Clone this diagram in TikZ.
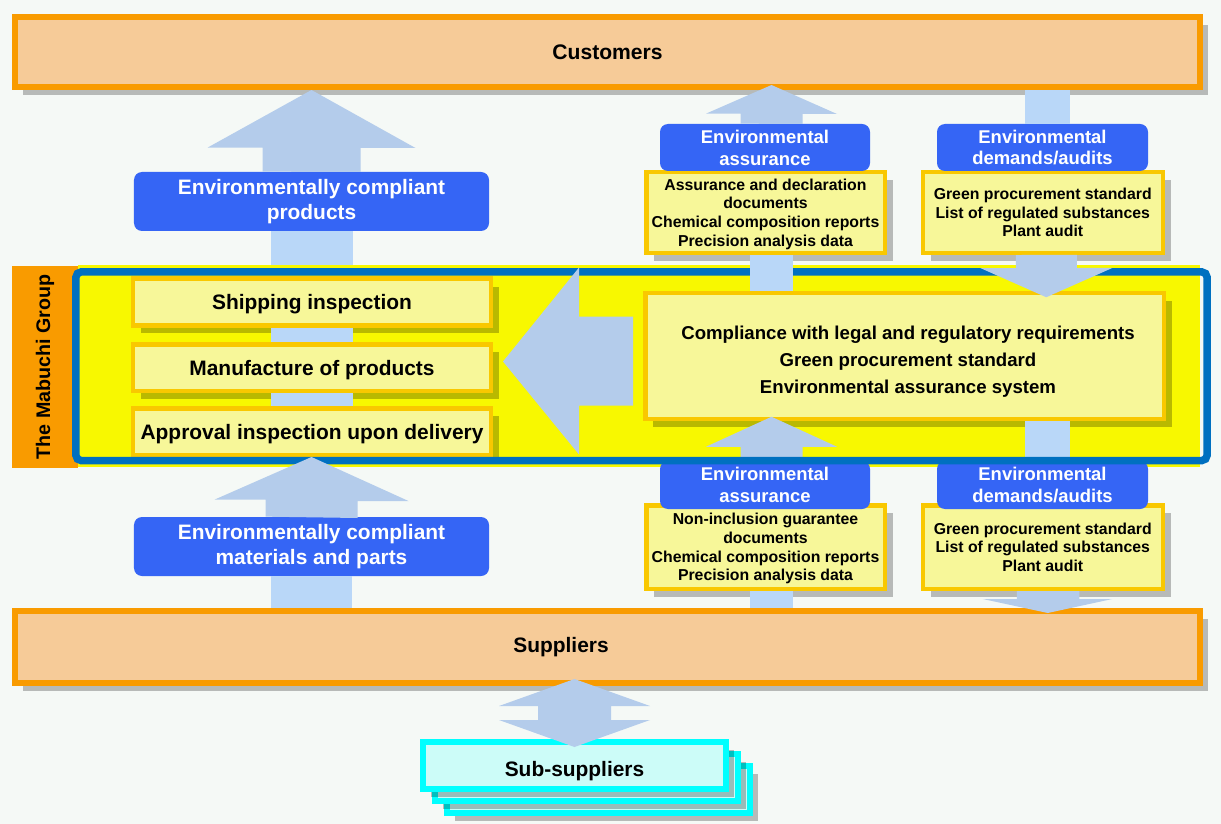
\documentclass[tikz,border=0pt]{standalone}
\usepackage{fontspec}
\setmainfont{Liberation Sans}
\usetikzlibrary{calc,shadows}

\definecolor{bgpale}{HTML}{F5F9F6}
\definecolor{barorange}{HTML}{F99B00}
\definecolor{barpeach}{HTML}{F6CB98}
\definecolor{boxblue}{HTML}{3565F5}
\definecolor{headblue}{HTML}{B4CCEB}
\definecolor{shaftblue}{HTML}{B9D7F8}
\definecolor{bandyellow}{HTML}{F8F800}
\definecolor{frameblue}{HTML}{0070C0}
\definecolor{gold}{HTML}{F9C800}
\definecolor{paleyellow}{HTML}{F7F799}
\definecolor{subcyan}{HTML}{00FFFF}
\definecolor{subfill}{HTML}{CCFCF8}

\begin{document}
\begin{tikzpicture}[x=0.2mm,y=-0.2mm,
  every node/.style={font=\bfseries,inner sep=0pt},
  bigfont/.style={font=\fontsize{11.9}{14.2}\selectfont\bfseries},
  titlefont/.style={font=\fontsize{10.5}{12.5}\selectfont\bfseries},
  smallfont/.style={font=\fontsize{9}{10.6}\selectfont\bfseries},
  midfont/.style={font=\fontsize{10.6}{15.4}\selectfont\bfseries},
  shade8/.style={drop shadow={shadow xshift=1.6mm,shadow yshift=-1.6mm,fill=black,opacity=0.25}},
  bar/.style={draw=barorange,line width=1.2mm,fill=barpeach,shade8,minimum width=237mm},
  bluebox/.style={fill=boxblue,rounded corners=1.6mm,text=white,align=center},
  stepbox/.style={draw=gold,line width=0.9mm,fill=paleyellow,shade8,align=center,text depth=0pt},
  subbox/.style={draw=subcyan,line width=1.2mm,fill=subfill,shade8,minimum width=60.6mm,minimum height=9.4mm},
  blockhead/.style={fill=headblue},
  blockshaft/.style={fill=shaftblue}]
\path[use as bounding box,fill=bgpale] (0,0) rectangle (1221,824);

% customers and suppliers
\node[bar,minimum height=14mm,font=\fontsize{12}{14}\selectfont\bfseries] (cust) at (607.5,52) {Customers};
\node[bar,minimum height=14.4mm,label={[bigfont,xshift=-9.3mm]center:Suppliers}] (sup) at (607.5,647) {};

\node[bluebox,minimum width=71mm,minimum height=11.8mm,bigfont] (prods) at (311.5,201.5) {Environmentally compliant\\products};
\node[bluebox,minimum width=71mm,minimum height=11.8mm,bigfont] (mats) at (311.5,546.5) {Environmentally compliant\\materials and parts};
\fill[blockshaft] ($(prods.south)+(-41,0)$) rectangle ($(prods.south |- 0,265)+(41,0)$);
\fill[blockshaft] ($(mats.south)+(-40.5,0)$) rectangle ($(mats.south |- sup.north)+(40.5,0)$);

% the group
\node[fill=bandyellow,minimum width=224.4mm,minimum height=40.4mm] (band) at (639,366) {};
\node[fill=barorange,rotate=90,minimum width=40.4mm,minimum height=13.2mm,font=\fontsize{11.2}{13}\selectfont\bfseries] (grouplabel) at (45,367) {The Mabuchi Group};
\node[stepbox,minimum width=71.5mm,minimum height=9.3mm,bigfont] (ship) at (312,302) {Shipping inspection};
\node[stepbox,minimum width=71.5mm,minimum height=9.3mm,bigfont] (manu) at (312,367.5) {Manufacture of products};
\node[stepbox,minimum width=71.5mm,minimum height=9.3mm,bigfont] (appr) at (312,431.5) {Approval inspection upon delivery};
\foreach \a/\b in {ship/manu,manu/appr}
  \fill[blockshaft] ($(\a.south)+(-41,0)$) rectangle ($(\b.north)+(41,0)$);
\node[stepbox,minimum width=103.7mm,minimum height=25.2mm,
  label={[midfont,align=center,xshift=0.7mm,yshift=-1.1mm]center:Compliance with legal and regulatory requirements\\Green procurement standard\\Environmental assurance system}] (comp) at (904.5,356) {};

% lower exchange with suppliers
\node[stepbox,minimum width=47.7mm,minimum height=16.7mm,smallfont] (asrLowDocs) at (765.5,547) {Non-inclusion guarantee\\documents\\Chemical composition reports\\Precision analysis data};
\node[stepbox,minimum width=48mm,minimum height=16.7mm,smallfont] (dmdLowDocs) at (1042.75,547) {Green procurement standard\\List of regulated substances\\Plant audit};
\node[bluebox,minimum width=42mm,minimum height=9.6mm,titlefont] (asrLow) at (765,485) {Environmental\\assurance};
\node[bluebox,minimum width=42.2mm,minimum height=9.6mm,titlefont] (dmdLow) at (1042.5,485) {Environmental\\demands/audits};
\fill[blockhead] ($(asrLow.north |- comp.south)+(6.5,-4.5)$) -- ++(65.5,30) -- ++(-34.5,0) -- ++(0,16) -- ++(-62,0) -- ++(0,-16) -- ++(-34.5,0) -- cycle;
\fill[blockshaft] ($(comp.south -| dmdLow.north)+(-17.5,0)$) rectangle ($(dmdLow.north)+(27.5,0)$);

\node[draw=frameblue,line width=1.5mm,rounded corners=1mm,minimum width=226.2mm,minimum height=37.7mm] (group) at (641.5,366.25) {};

\fill[blockhead] ($(manu.east)+(10,-6)$) -- ++(76,-94) -- ++(0,49) -- ++(54,0) -- ++(0,89) -- ++(-54,0) -- ++(0,49) -- cycle;
\fill[blockhead] ($(mats.north)+(-46,0)$) -- ++(0,-17) -- ++(-51,0) -- (mats.north |- appr.south) -- ++(97,44) -- ++(-51,0) -- ++(0,17) -- cycle;
\fill[blockhead] ($(prods.north)+(-49,0)$) -- ++(0,-24) -- ++(-55,0) -- (prods.north |- cust.south) -- ++(104,58) -- ++(-55,0) -- ++(0,24) -- cycle;

% upper exchange with customers
\node[stepbox,minimum width=47.7mm,minimum height=16.1mm,smallfont] (asrTopDocs) at (765.5,212.5) {Assurance and declaration\\documents\\Chemical composition reports\\Precision analysis data};
\node[stepbox,minimum width=48mm,minimum height=16.1mm,smallfont] (dmdTopDocs) at (1042.75,212.5) {Green procurement standard\\List of regulated substances\\Plant audit};
\node[bluebox,minimum width=42mm,minimum height=9.4mm,titlefont] (asrTop) at (765,147.5) {Environmental\\assurance};
\node[bluebox,minimum width=42.2mm,minimum height=9.4mm,titlefont] (dmdTop) at (1042.5,147.5) {Environmental\\demands/audits};
\fill[blockhead] ($(asrTop.north)+(-24.5,0)$) -- ++(0,-10) -- ++(-34.5,0) -- ($(asrTop.north |- cust.south)+(6.5,-5)$) -- ++(65.5,29) -- ++(-34.5,0) -- ++(0,10) -- cycle;
\fill[blockshaft] ($(dmdTop.north |- cust.south)+(-17.5,0)$) rectangle ($(dmdTop.north)+(27.5,0)$);
\fill[blockshaft] ($(asrTopDocs.south)+(-15.5,0)$) rectangle ($(asrTopDocs.south |- comp.north)+(27.5,0)$);
\fill[blockhead] ($(dmdTopDocs.south)+(-27,0)$) -- ++(0,13) -- ++(-35.5,0) -- ($(dmdTopDocs.south |- comp.north)+(3.5,6.5)$) -- ++(66,-29.25) -- ++(-35.5,0) -- ++(0,-13) -- cycle;

\fill[blockshaft] ($(asrLowDocs.south)+(-15.5,0)$) rectangle ($(asrLowDocs.south |- sup.north)+(27.5,0)$);
\fill[blockhead] ($(dmdLowDocs.south)+(-26,0)$) -- ++(0,8) -- ++(-34,0) -- ($(dmdLowDocs.south |- sup.north)+(5,5)$) -- ++(64.5,-14) -- ++(-33,0) -- ++(0,-8) -- cycle;

% sub-suppliers
\foreach \d/\n in {24/3,12/2}
  \node[subbox] (subs\n) at ($(574.5,765.5)+(\d,\d)$) {};
\node[subbox,label={[bigfont,yshift=-1.1mm]center:Sub-suppliers}] (subs) at (574.5,765.5) {};
\fill[blockhead] ($(subs.north |- sup.south)+(0,-7)$) -- ++(75.5,27) -- ++(-39,0) -- ++(0,14) -- ++(39,0) -- ($(subs.north)+(0,8)$) -- ++(-75.5,-27) -- ++(39,0) -- ++(0,-14) -- ++(-39,0) -- cycle;
\end{tikzpicture}
\end{document}
